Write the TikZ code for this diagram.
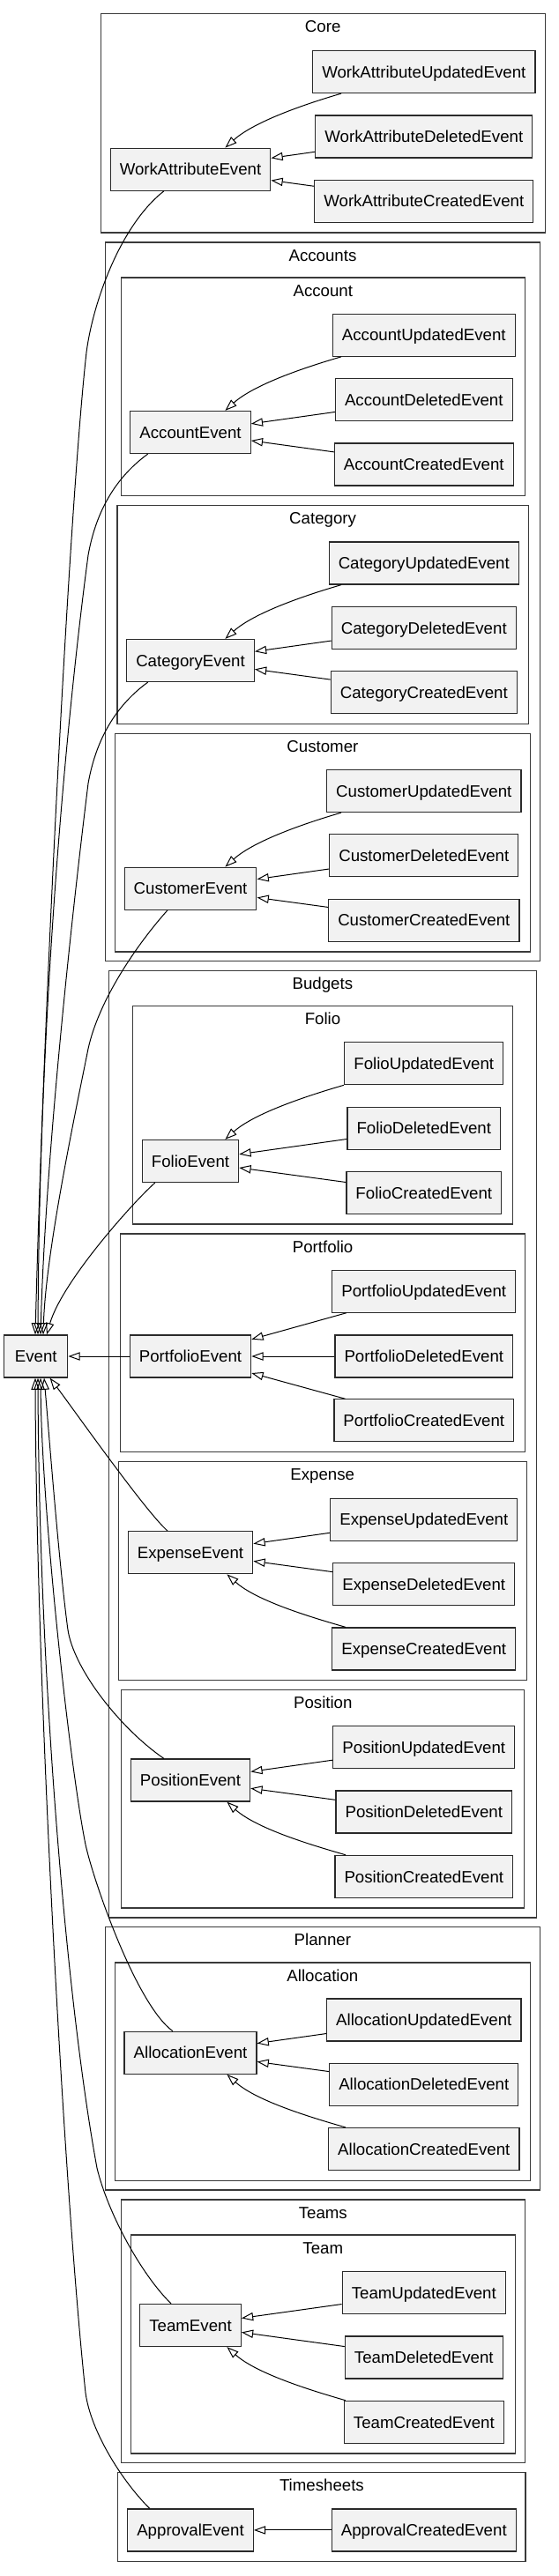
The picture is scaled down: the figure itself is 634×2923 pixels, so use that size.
\documentclass[tikz,border=0pt]{standalone}
\usepackage{fontspec}
\setmainfont{Liberation Sans}
\usetikzlibrary{arrows.meta}
\definecolor{nodefill}{HTML}{F2F2F2}
\definecolor{nodeline}{HTML}{2A2A2A}
\definecolor{clusterline}{HTML}{3A3A3A}
\begin{document}
\begin{tikzpicture}[x=1pt,y=-1pt,
  cls/.style={draw=clusterline, line width=1.2pt},
  clabel/.style={anchor=base, inner sep=0pt, font=\fontsize{18.67}{22}\selectfont},
  ev/.style={draw=nodeline, fill=nodefill, line width=1.2pt, minimum height=48pt,
    minimum width=72pt, inner xsep=10.56pt, inner ysep=0pt, text height=13.4pt,
    text depth=0pt, font=\fontsize{18.67}{22}\selectfont},
  inh/.style={draw=black, line width=1pt, -{Triangle[open, length=13.3pt, width=9.3pt]}}
]
\useasboundingbox (0,0) rectangle (634,2923);
\fill[white] (0,0) rectangle (634,2923);

% ---------- clusters ----------
\draw[cls] (114.3,15.7) rectangle (618.2,264);
\node[clabel] (lcore) at (366.2,36.7) {Core};
\draw[cls] (119.6,275) rectangle (612.5,1090.7);
\node[clabel] (laccounts) at (366,296) {Accounts};
\draw[cls] (137.4,315) rectangle (595.2,562.7);
\node[clabel] (laccount) at (366.3,336) {Account};
\draw[cls] (133,573.3) rectangle (599.2,821.7);
\node[clabel] (lcategory) at (366.1,594.3) {Category};
\draw[cls] (130.1,832.3) rectangle (601.6,1080);
\node[clabel] (lcustomer) at (365.9,853.3) {Customer};
\draw[cls] (123.2,1101.7) rectangle (608.5,2176);
\node[clabel] (lbudgets) at (365.9,1122.7) {Budgets};
\draw[cls] (150.3,1141.7) rectangle (581.8,1389);
\node[clabel] (lfolio) at (366,1162.7) {Folio};
\draw[cls] (136.6,1400) rectangle (595.6,1647.7);
\node[clabel] (lportfolio) at (366.1,1421) {Portfolio};
\draw[cls] (134.1,1658.7) rectangle (597.2,1906.7);
\node[clabel] (lexpense) at (365.7,1679.7) {Expense};
\draw[cls] (137.8,1917.3) rectangle (594.7,2165);
\node[clabel] (lposition) at (366.3,1938.3) {Position};
\draw[cls] (119.2,2186.7) rectangle (612.5,2485);
\node[clabel] (lplanner) at (365.9,2207.7) {Planner};
\draw[cls] (130.1,2227) rectangle (601.6,2474.3);
\node[clabel] (lallocation) at (365.9,2248) {Allocation};
\draw[cls] (137.4,2496) rectangle (595.2,2794.3);
\node[clabel] (lteams) at (366.3,2517) {Teams};
\draw[cls] (148.3,2536) rectangle (584.2,2784);
\node[clabel] (lteam) at (366.3,2557) {Team};
\draw[cls] (133.7,2805.7) rectangle (596,2906.7);
\node[clabel] (ltimesheets) at (364.9,2826.7) {Timesheets};

% ---------- nodes ----------
\node[ev] (wau) at (480.8,81.5) {WorkAttributeUpdatedEvent};
\node[ev] (wad) at (480.8,154.9) {WorkAttributeDeletedEvent};
\node[ev] (wac) at (480.8,228.2) {WorkAttributeCreatedEvent};
\node[ev] (wae) at (216,192.2) {WorkAttributeEvent};

\node[ev] (accu) at (480.8,380.2) {AccountUpdatedEvent};
\node[ev] (accd) at (480.8,453.3) {AccountDeletedEvent};
\node[ev] (accc) at (480.8,526.9) {AccountCreatedEvent};
\node[ev] (acce) at (216,490.5) {AccountEvent};

\node[ev] (catu) at (480.8,639) {CategoryUpdatedEvent};
\node[ev] (catd) at (480.8,712.3) {CategoryDeletedEvent};
\node[ev] (catc) at (480.8,785.5) {CategoryCreatedEvent};
\node[ev] (cate) at (216,749.5) {CategoryEvent};

\node[ev] (cusu) at (480.8,897.5) {CustomerUpdatedEvent};
\node[ev] (cusd) at (480.8,970.8) {CustomerDeletedEvent};
\node[ev] (cusc) at (480.8,1044.2) {CustomerCreatedEvent};
\node[ev] (cuse) at (216,1008.2) {CustomerEvent};

\node[ev] (folu) at (480.8,1206.7) {FolioUpdatedEvent};
\node[ev] (fold) at (480.8,1280.2) {FolioDeletedEvent};
\node[ev] (folc) at (480.8,1353.5) {FolioCreatedEvent};
\node[ev] (fole) at (216,1317.5) {FolioEvent};

\node[ev] (poru) at (480.8,1465.2) {PortfolioUpdatedEvent};
\node[ev] (pord) at (480.8,1539) {PortfolioDeletedEvent};
\node[ev] (porc) at (480.8,1611.8) {PortfolioCreatedEvent};
\node[ev] (pore) at (216,1539) {PortfolioEvent};

\node[ev] (event) at (40.8,1539) {Event};

\node[ev] (expu) at (480.8,1724.2) {ExpenseUpdatedEvent};
\node[ev] (expd) at (480.8,1797.7) {ExpenseDeletedEvent};
\node[ev] (expc) at (480.8,1870.9) {ExpenseCreatedEvent};
\node[ev] (expe) at (216,1761.7) {ExpenseEvent};

\node[ev] (posu) at (480.8,1982.5) {PositionUpdatedEvent};
\node[ev] (posd) at (480.8,2055.9) {PositionDeletedEvent};
\node[ev] (posc) at (480.8,2129.3) {PositionCreatedEvent};
\node[ev] (pose) at (216,2020) {PositionEvent};

\node[ev] (allu) at (480.8,2291.9) {AllocationUpdatedEvent};
\node[ev] (alld) at (480.8,2365.2) {AllocationDeletedEvent};
\node[ev] (allc) at (480.8,2438.5) {AllocationCreatedEvent};
\node[ev] (alle) at (216,2329.2) {AllocationEvent};

\node[ev] (teau) at (480.8,2601.5) {TeamUpdatedEvent};
\node[ev] (tead) at (480.8,2674.9) {TeamDeletedEvent};
\node[ev] (teac) at (480.8,2748.3) {TeamCreatedEvent};
\node[ev] (teae) at (216,2638.5) {TeamEvent};

\node[ev] (apc) at (480.8,2870.9) {ApprovalCreatedEvent};
\node[ev] (ape) at (216,2870.9) {ApprovalEvent};

% ---------- edges inside clusters ----------
% pattern A: updated curves in from above
\draw[inh] ([xshift=-93.7pt]wau.south) .. controls +(-32,9.3) and +(34.6,-31.3) .. ([xshift=39.4pt]wae.north);
\draw[inh] (wad) -- (wae);
\draw[inh] (wac) -- (wae);

\draw[inh] ([xshift=-93.7pt]accu.south) .. controls +(-32,9.3) and +(34.6,-31.3) .. ([xshift=39.4pt]acce.north);
\draw[inh] (accd) -- (acce);
\draw[inh] (accc) -- (acce);

\draw[inh] ([xshift=-93.7pt]catu.south) .. controls +(-32,9.3) and +(34.6,-31.3) .. ([xshift=39.4pt]cate.north);
\draw[inh] (catd) -- (cate);
\draw[inh] (catc) -- (cate);

\draw[inh] ([xshift=-93.7pt]cusu.south) .. controls +(-32,9.3) and +(34.6,-31.3) .. ([xshift=39.4pt]cuse.north);
\draw[inh] (cusd) -- (cuse);
\draw[inh] (cusc) -- (cuse);

\draw[inh] ([xshift=-90.8pt]folu.south) .. controls +(-32,9.3) and +(34.6,-31.3) .. ([xshift=39.4pt]fole.north);
\draw[inh] (fold) -- (fole);
\draw[inh] (folc) -- (fole);

% portfolio: all straight
\draw[inh] (poru) -- (pore);
\draw[inh] (pord) -- (pore);
\draw[inh] (porc) -- (pore);

% pattern C: created curves in from below
\draw[inh] (expu) -- (expe);
\draw[inh] (expd) -- (expe);
\draw[inh] ([xshift=-89pt]expc.north) .. controls +(-32,-9.3) and +(34.6,31.3) .. ([xshift=41.4pt]expe.south);

\draw[inh] (posu) -- (pose);
\draw[inh] (posd) -- (pose);
\draw[inh] ([xshift=-89pt]posc.north) .. controls +(-32,-9.3) and +(34.6,31.3) .. ([xshift=41.4pt]pose.south);

\draw[inh] (allu) -- (alle);
\draw[inh] (alld) -- (alle);
\draw[inh] ([xshift=-89pt]allc.north) .. controls +(-32,-9.3) and +(34.6,31.3) .. ([xshift=41.4pt]alle.south);

\draw[inh] (teau) -- (teae);
\draw[inh] (tead) -- (teae);
\draw[inh] ([xshift=-89pt]teac.north) .. controls +(-32,-9.3) and +(34.6,31.3) .. ([xshift=41.4pt]teae.south);

\draw[inh] (apc) -- (ape);

% ---------- edges to Event ----------
\draw[inh] ([xshift=-30.1pt]wae.south) .. controls (135.9,256) and (105,345) .. (98,400)
  .. controls (80,560) and (50.4,1115) .. ([xshift=-0.8pt]event.north);
\draw[inh] ([xshift=-48.3pt]acce.south) .. controls (127.7,544.3) and (108,585) .. (100,630)
  .. controls (80,780) and (45,1115) .. ([xshift=2.2pt]event.north);
\draw[inh] ([xshift=-48.3pt]cate.south) .. controls (127.7,803.3) and (108,844) .. (100,889)
  .. controls (85,1010) and (52,1300) .. ([xshift=5.2pt]event.north);
\draw[inh] ([xshift=-26pt]cuse.south) .. controls (155,1072) and (112,1135) .. (100,1190)
  .. controls (86,1260) and (52,1420) .. ([xshift=8.2pt]event.north);
\draw[inh] ([xshift=-40.2pt]fole.south) .. controls (150,1365) and (70,1455) .. ([xshift=12.2pt]event.north);

\draw[inh] (pore) -- (event);

\draw[inh] ([xshift=-26pt]expe.north) .. controls +(-25,-22) and +(25,33) .. ([xshift=15.8pt]event.south);
\draw[inh] ([xshift=-30.1pt]pose.north) .. controls (135.9,1961) and (82.8,1893) .. (76.8,1848)
  .. controls (66.2,1768) and (55.5,1625) .. ([xshift=9.2pt]event.south);
\draw[inh] ([xshift=-20.2pt]alle.north) .. controls (155.2,2275) and (107,2138) .. (97,2093)
  .. controls (79,2003) and (47.3,1715) .. ([xshift=5.2pt]event.south);
\draw[inh] ([xshift=-22pt]teae.north) .. controls (159,2579.3) and (122,2510) .. (110,2460)
  .. controls (75,2270) and (44.4,1900) .. ([xshift=2.2pt]event.south);
\draw[inh] ([xshift=-46.3pt]ape.north) .. controls (139.7,2816.7) and (103,2760) .. (97,2715)
  .. controls (72,2480) and (41,1900) .. ([xshift=-0.8pt]event.south);
\end{tikzpicture}
\end{document}
